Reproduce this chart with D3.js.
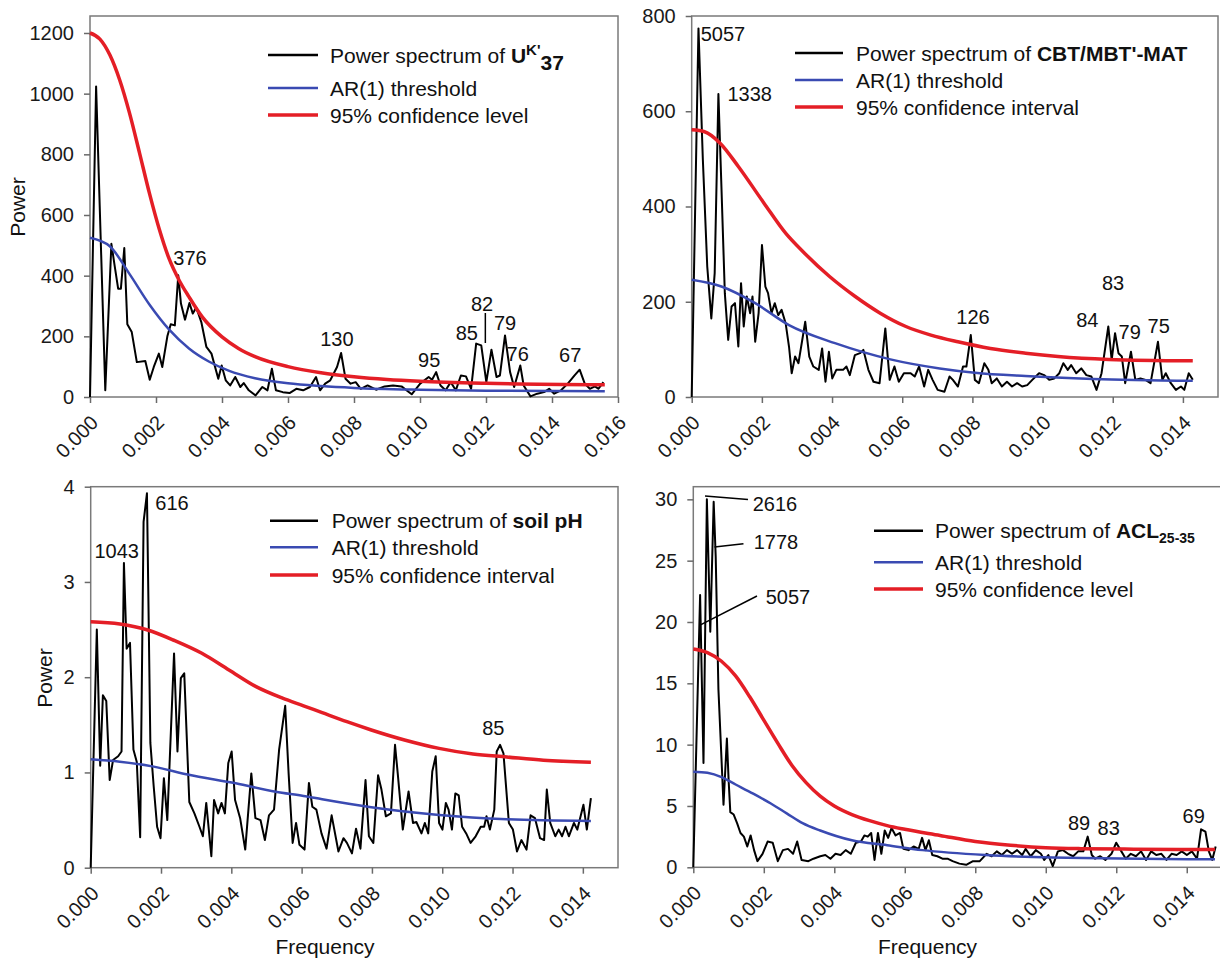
<!DOCTYPE html>
<html>
<head>
<meta charset="utf-8">
<title>Power spectra</title>
<script src="https://d3js.org/d3.v7.min.js"></script>
<style>
    body { margin: 0; background: #fff; }
    svg { display: block; font-family: "Liberation Sans", Arial, sans-serif; }
    .tick text { font-size: 20px; fill: #1a1a1a; font-family: "Liberation Sans", Arial, sans-serif; }
    .tick line { stroke: #6a6a6a; stroke-width: 1.5; }
    .frame { fill: none; stroke: #7a7a7a; stroke-width: 1.5; }
    .spec { fill: none; stroke: #000; stroke-width: 2; stroke-linejoin: round; }
    .ar1 { fill: none; stroke: #3a4ab2; stroke-width: 2.5; }
    .conf { fill: none; stroke: #e41e26; stroke-width: 3.5; }
    .lab { font-size: 20px; fill: #111; }
    .leg { font-size: 21px; fill: #111; }
    .title { font-size: 21px; fill: #111; }
    .lead { stroke: #000; stroke-width: 1.5; }
</style>
</head>
<body>
<script>
// ---- data (frequency, power) ----
var xTicks16 = [0, 0.002, 0.004, 0.006, 0.008, 0.010, 0.012, 0.014, 0.016];
var xTicks14 = [0, 0.002, 0.004, 0.006, 0.008, 0.010, 0.012, 0.014];

// UK'37
var ukTicks = [0, 200, 400, 600, 800, 1000, 1200];
var ukSpec = [[0,0],[0.000185,1024],[0.000463,22],[0.000648,505],[0.000751,430],[0.000853,357],[0.000936,357],
    [0.001039,491],[0.001131,240],[0.001265,214],[0.001419,115],[0.001676,119],[0.00181,57],[0.001933,99],
    [0.002087,143],[0.00219,99],[0.002344,200],[0.002447,240],[0.002571,236],[0.002674,401],[0.002756,308],
    [0.002879,255],[0.003013,310],[0.003116,275],[0.003219,295],[0.003373,247],[0.003527,165],[0.003681,143],
    [0.003887,60],[0.00399,104],[0.004113,55],[0.004247,38],[0.004401,66],[0.004555,33],[0.004658,46],
    [0.004812,22],[0.005018,5],[0.005224,33],[0.005378,22],[0.005512,93],[0.005635,22],[0.005841,16],
    [0.006046,13],[0.006252,27],[0.006458,22],[0.006663,33],[0.006849,66],[0.006972,22],[0.007126,44],
    [0.00728,55],[0.007486,99],[0.007609,145],[0.007743,60],[0.007897,44],[0.008051,49],[0.008206,27],
    [0.008411,38],[0.008668,24],[0.008926,35],[0.009183,38],[0.00944,35],[0.009748,9],[0.010005,44],
    [0.010262,66],[0.010365,57],[0.010489,82],[0.010622,38],[0.010776,22],[0.010931,49],[0.011085,22],
    [0.011239,71],[0.011393,68],[0.011548,27],[0.011702,176],[0.011856,170],[0.01201,49],[0.012165,156],
    [0.012319,66],[0.012422,71],[0.012576,203],[0.01273,82],[0.012853,33],[0.013039,104],[0.013141,38],
    [0.013347,2],[0.013553,11],[0.013759,16],[0.013913,27],[0.014067,11],[0.014273,22],[0.014478,44],
    [0.014684,71],[0.014838,90],[0.014992,44],[0.015147,27],[0.015301,35],[0.015404,27],[0.015558,49]];
var ukAR1 = [[0,525],[0.0006,497],[0.0012,405],[0.0018,305],[0.0024,222],[0.003,160],[0.0036,117],[0.0042,87],
    [0.005,62],[0.006,45],[0.007,36],[0.008,30],[0.010,24],[0.012,21],[0.0156,19]];
var ukConf = [[0,1200],[0.0003,1180],[0.0006,1128],[0.0009,1045],[0.0012,935],[0.0015,805],[0.0018,672],
    [0.0021,553],[0.0024,455],[0.0027,385],[0.003,330],[0.0034,264],[0.004,198],[0.0045,160],[0.005,133],
    [0.006,100],[0.007,80],[0.008,67],[0.009,58],[0.010,52],[0.012,45],[0.0156,40]];
var ukPeaks = [["376",0.00303,457],["130",0.00748,190],["95",0.01028,122],["85",0.01142,210],["82",0.01188,307],
    ["79",0.01258,243],["76",0.01296,142],["67",0.01455,138]];
var ukLeads = [[[0.01198,277],[0.01198,178]]];

// CBT/MBT'-MAT
var matTicks = [0, 200, 400, 600, 800];
var matSpec = [[0,0],[0.000193,774],[0.000318,498],[0.000443,274],[0.000559,165],[0.000655,260],[0.000761,636],
    [0.000847,442],[0.000944,218],[0.00104,120],[0.001136,190],[0.001233,197],[0.001329,106],[0.001406,239],
    [0.001483,148],[0.00157,211],[0.001666,176],[0.001733,211],[0.00181,116],[0.001907,176],[0.002003,319],
    [0.002099,232],[0.002176,218],[0.002273,176],[0.002369,197],[0.002465,172],[0.002562,183],[0.002677,155],
    [0.002773,106],[0.00285,50],[0.002947,85],[0.003043,71],[0.003236,158],[0.003351,85],[0.003467,64],
    [0.003621,57],[0.003717,102],[0.003813,32],[0.00391,95],[0.004006,39],[0.004122,57],[0.004314,57],
    [0.004411,64],[0.004507,46],[0.004651,88],[0.004796,92],[0.004892,99],[0.005036,57],[0.005181,32],
    [0.005354,29],[0.005518,144],[0.005643,36],[0.005778,64],[0.005903,32],[0.006048,50],[0.00624,50],
    [0.006356,43],[0.006481,64],[0.006625,22],[0.006741,57],[0.006866,36],[0.00701,15],[0.007203,11],
    [0.007348,43],[0.007444,36],[0.007588,22],[0.007733,64],[0.007829,64],[0.007954,130],[0.00807,36],
    [0.008186,29],[0.00834,71],[0.008455,57],[0.008551,29],[0.008696,39],[0.00884,22],[0.008985,32],
    [0.009129,22],[0.009274,29],[0.009418,22],[0.009563,25],[0.009707,36],[0.0099,50],[0.010044,46],
    [0.010189,36],[0.010333,39],[0.010477,50],[0.010593,71],[0.010718,57],[0.010814,67],[0.010959,50],
    [0.011103,60],[0.011248,46],[0.011392,43],[0.011537,15],[0.011681,50],[0.011874,148],[0.01197,78],
    [0.012066,134],[0.012163,92],[0.012259,85],[0.012355,29],[0.012519,95],[0.012644,36],[0.012789,39],
    [0.012933,36],[0.013078,29],[0.013289,116],[0.013414,36],[0.013511,50],[0.013655,29],[0.0138,15],
    [0.013944,22],[0.01404,15],[0.014166,50],[0.014281,36]];
var matAR1 = [[0,246],[0.000847,232],[0.00181,197],[0.002773,151],[0.004083,113],[0.005662,79],[0.007068,60],
    [0.00807,51],[0.009514,44],[0.01144,38],[0.014281,34]];
var matConf = [[0,561],[0.000366,557],[0.000809,533],[0.001329,484],[0.002061,407],[0.002677,344],[0.003216,302],
    [0.003929,253],[0.004661,211],[0.005373,176],[0.006105,148],[0.006818,130],[0.007588,116],[0.008513,102],
    [0.009514,92],[0.010439,85],[0.011883,79],[0.014281,76]];
var matPeaks = [["5057",0.000892,762],["1338",0.001653,636],["126",0.008018,169],["84",0.011275,162],
    ["83",0.012008,239],["79",0.012484,137],["75",0.01331,149]];

// soil pH
var phTicks = [0, 1, 2, 3, 4];
var phSpec = [[0,0],[0.000174,2.50],[0.00027,1.07],[0.000347,1.81],[0.000443,1.75],[0.00054,0.92],[0.000636,1.13],
    [0.000781,1.17],[0.000877,1.22],[0.000945,3.20],[0.001022,2.30],[0.001118,2.36],[0.001215,1.24],[0.001311,1.11],
    [0.001407,0.32],[0.001504,3.63],[0.0016,3.93],[0.001697,1.31],[0.001793,0.85],[0.001889,0.43],[0.001986,0.31],
    [0.002082,0.94],[0.002179,0.50],[0.002371,2.25],[0.002468,1.22],[0.002564,1.99],[0.002661,2.04],[0.002805,0.69],
    [0.00295,0.57],[0.003094,0.43],[0.003191,0.33],[0.003287,0.68],[0.003432,0.12],[0.003509,0.71],[0.003625,0.57],
    [0.003721,0.68],[0.003817,0.57],[0.003914,1.10],[0.00401,1.22],[0.004107,0.71],[0.004251,0.52],[0.004396,0.19],
    [0.004569,0.99],[0.004685,0.52],[0.00483,0.50],[0.004955,0.29],[0.005071,0.55],[0.005215,0.61],[0.00536,1.24],
    [0.005533,1.70],[0.00563,0.99],[0.005745,0.26],[0.005842,0.47],[0.005938,0.24],[0.006083,0.19],[0.006208,0.89],
    [0.006305,0.64],[0.00642,0.61],[0.006565,0.36],[0.006709,0.20],[0.006854,0.55],[0.007047,0.17],[0.007191,0.31],
    [0.007288,0.26],[0.007432,0.15],[0.007548,0.41],[0.007673,0.20],[0.007818,0.92],[0.007914,0.33],[0.00804,0.26],
    [0.008175,0.97],[0.008271,0.82],[0.008396,0.54],[0.008541,0.57],[0.008657,1.29],[0.008734,0.99],[0.008878,0.40],
    [0.009042,0.80],[0.009168,0.47],[0.009264,0.48],[0.009409,0.36],[0.009505,0.47],[0.009601,0.36],[0.009717,1.01],
    [0.009814,1.17],[0.00991,0.47],[0.010006,0.40],[0.010103,0.68],[0.01018,0.61],[0.010276,0.40],[0.010373,0.78],
    [0.010469,0.76],[0.010565,0.43],[0.010681,0.36],[0.010806,0.26],[0.010951,0.33],[0.011096,0.43],[0.011192,0.43],
    [0.011259,0.54],[0.011356,0.40],[0.011481,0.61],[0.011549,1.22],[0.011645,1.29],[0.011742,1.20],[0.011896,0.47],
    [0.012011,0.40],[0.012127,0.17],[0.012252,0.29],[0.012397,0.19],[0.012513,0.55],[0.012638,0.52],[0.012783,0.31],
    [0.012898,0.29],[0.012975,0.82],[0.013072,0.47],[0.013216,0.33],[0.013313,0.40],[0.013409,0.33],[0.013506,0.43],
    [0.013602,0.33],[0.013747,0.47],[0.013843,0.40],[0.014017,0.66],[0.014113,0.40],[0.014229,0.73]];
var phAR1 = [[0,1.138],[0.000829,1.113],[0.001793,1.061],[0.002757,0.978],[0.004126,0.886],[0.005263,0.798],
    [0.006054,0.753],[0.006584,0.718],[0.007982,0.634],[0.00991,0.553],[0.011838,0.508],[0.014229,0.49]];
var phConf = [[0,2.583],[0.000829,2.559],[0.00162,2.496],[0.002391,2.384],[0.003162,2.251],[0.003933,2.076],
    [0.004704,1.901],[0.005456,1.78],[0.006054,1.70],[0.006584,1.628],[0.007288,1.533],[0.007982,1.446],
    [0.008927,1.341],[0.00991,1.253],[0.010874,1.194],[0.011838,1.162],[0.012879,1.128],[0.014229,1.106]];
var phPeaks = [["616",0.002313,3.826],["1043",0.00074,3.328],["85",0.011453,1.464]];

// ACL25-35
var aclTicks = [0, 5, 10, 15, 20, 25, 30];
var aclSpec = [[0,0],[0.000193,22.2],[0.000289,8.5],[0.000385,30.0],[0.000482,19.2],[0.000578,29.8],[0.000636,25.3],
    [0.000713,14.5],[0.000857,5.1],[0.000953,10.5],[0.001002,7.1],[0.00105,4.5],[0.001146,4.3],[0.001242,3.6],
    [0.001339,2.8],[0.001435,2.5],[0.001531,1.7],[0.001627,2.6],[0.001724,1.4],[0.00182,0.5],[0.001965,1.1],
    [0.002109,2.1],[0.002253,2.0],[0.002398,0.5],[0.002542,1.4],[0.002687,1.5],[0.002831,1.1],[0.002947,2.1],
    [0.003072,0.6],[0.003265,0.5],[0.003409,0.7],[0.003602,0.9],[0.003746,1.0],[0.003891,0.7],[0.004035,1.1],
    [0.004179,1.0],[0.004324,1.4],[0.004468,1.1],[0.004613,2.0],[0.004757,2.1],[0.004854,2.6],[0.00495,2.5],
    [0.005046,2.8],[0.005142,0.6],[0.005239,2.8],[0.005335,1.1],[0.005431,3.0],[0.005528,2.4],[0.005624,3.2],
    [0.005739,2.6],[0.005865,2.8],[0.005961,1.5],[0.006105,1.4],[0.00625,1.7],[0.006394,1.5],[0.006491,2.4],
    [0.006587,1.4],[0.006683,2.2],[0.00678,1.0],[0.006924,0.9],[0.007068,0.7],[0.007213,0.7],[0.007357,0.5],
    [0.00755,0.3],[0.007743,0.2],[0.007935,0.5],[0.008128,0.5],[0.00832,1.1],[0.008465,0.9],[0.008609,1.3],
    [0.008754,1.0],[0.008898,1.4],[0.009043,1.1],[0.009187,1.4],[0.009331,1.0],[0.009428,1.5],[0.009572,0.9],
    [0.009717,1.4],[0.009861,1.1],[0.009957,0.6],[0.010073,1.0],[0.010198,0.1],[0.010343,1.3],[0.010487,1.4],
    [0.010632,1.1],[0.010776,0.9],[0.01092,1.3],[0.011065,1.3],[0.01119,2.5],[0.011306,1.0],[0.011402,0.7],
    [0.011546,0.9],[0.011691,0.6],[0.011864,1.1],[0.011999,2.0],[0.012124,1.4],[0.012269,0.7],[0.012413,1.1],
    [0.012558,0.9],[0.012702,1.3],[0.012846,0.6],[0.012991,1.3],[0.013135,1.0],[0.01328,1.1],[0.013424,0.6],
    [0.013569,1.1],[0.013713,1.0],[0.013858,1.3],[0.014002,1.0],[0.014146,1.3],[0.014291,0.7],[0.014406,3.1],
    [0.01453,2.9],[0.014627,1.3],[0.014723,0.6],[0.01482,1.7]];
var aclAR1 = [[0,7.8],[0.0004,7.7],[0.0008,7.35],[0.0012,6.75],[0.0017,6.0],[0.0022,5.2],[0.00265,4.4],[0.0031,3.6],
    [0.0036,3.0],[0.0045,2.2],[0.0055,1.8],[0.0065,1.4],[0.0083,1.0],[0.0102,0.8],[0.0148,0.65]];
var aclConf = [[0,17.8],[0.0004,17.5],[0.0008,16.8],[0.0012,15.6],[0.0016,13.9],[0.002,12.0],[0.0024,10.1],
    [0.0028,8.3],[0.0032,6.9],[0.0036,5.8],[0.004,5.0],[0.0045,4.3],[0.005,3.8],[0.0055,3.4],[0.006,3.1],
    [0.007,2.6],[0.008,2.1],[0.009,1.8],[0.010,1.6],[0.011,1.52],[0.0125,1.48],[0.0148,1.45]];
var aclPeaks = [["2616",0.002318,29.64],["1778",0.002346,26.54],["5057",0.002687,22.01],
    ["89",0.010943,3.59],["83",0.011785,3.18],["69",0.014197,4.18]];
var aclLeads = [[[0.000332,30.27],[0.001552,29.99]],[[0.000601,26.11],[0.001424,26.38]],[[0.00019,19.75],[0.001807,22.12]]];

// ---- layout ----
var svg = d3.select("body").append("svg").attr("width", 1220).attr("height", 962);

var panels = [
    {left: 90, right: 618, top: 16, bottom: 397, xMax: 0.016, yMax: 1256, xTicks: xTicks16, yTicks: ukTicks,
     spec: ukSpec, ar1: ukAR1, conf: ukConf, peaks: ukPeaks, leads: ukLeads,
     leg: {x0: 268, x1: 318, tx: 330, rows: [55, 88, 115]}, name: "uk", confText: "95% confidence level",
     yTitle: [18, 207]},
    {left: 691.7, right: 1218, top: 16, bottom: 397, xMax: 0.015, yMax: 800, xTicks: xTicks14, yTicks: matTicks,
     spec: matSpec, ar1: matAR1, conf: matConf, peaks: matPeaks, leads: [],
     leg: {x0: 795, x1: 843, tx: 856, rows: [53, 80, 107]}, name: "mat", confText: "95% confidence interval"},
    {left: 90.7, right: 618, top: 486.7, bottom: 867.7, xMax: 0.015, yMax: 4, xTicks: xTicks14, yTicks: phTicks,
     spec: phSpec, ar1: phAR1, conf: phConf, peaks: phPeaks, leads: [],
     leg: {x0: 270, x1: 318, tx: 331.7, rows: [520.7, 547.3, 575]}, name: "ph", confText: "95% confidence interval",
     yTitle: [45, 678], xTitle: [325, 947]},
    {left: 693.3, right: 1222, top: 486.7, bottom: 867.3, xMax: 0.015, yMax: 31.03, xTicks: xTicks14, yTicks: aclTicks,
     spec: aclSpec, ar1: aclAR1, conf: aclConf, peaks: aclPeaks, leads: aclLeads,
     leg: {x0: 874, x1: 923, tx: 935, rows: [530.7, 562.3, 589]}, name: "acl", confText: "95% confidence level",
     xTitle: [927.5, 947]}
];

function legendTitle(t, name) {
    t.append("tspan").text("Power spectrum of ");
    if (name == "uk") {
        t.append("tspan").attr("font-weight", "bold").text("U");
        t.append("tspan").attr("font-weight", "bold").attr("font-size", 15).attr("dy", -8).text("K'");
        t.append("tspan").attr("font-weight", "bold").attr("dy", 15).text("37");
    } else if (name == "mat") {
        t.append("tspan").attr("font-weight", "bold").text("CBT/MBT'-MAT");
    } else if (name == "ph") {
        t.append("tspan").attr("font-weight", "bold").text("soil pH");
    } else {
        t.append("tspan").attr("font-weight", "bold").text("ACL");
        t.append("tspan").attr("font-weight", "bold").attr("font-size", 14).attr("dy", 5).text("25-35");
    }
}

function drawPanel(cfg) {
    var g = svg.append("g");
    var x = d3.scaleLinear().domain([0, cfg.xMax]).range([cfg.left, cfg.right]);
    var y = d3.scaleLinear().domain([0, cfg.yMax]).range([cfg.bottom, cfg.top]);

    g.append("rect").attr("class", "frame")
        .attr("x", cfg.left).attr("y", cfg.top)
        .attr("width", cfg.right - cfg.left).attr("height", cfg.bottom - cfg.top);

    var ya = g.append("g").attr("transform", "translate(" + cfg.left + ",0)")
        .call(d3.axisLeft(y).tickValues(cfg.yTicks).tickFormat(d3.format("d"))
            .tickSize(6).tickPadding(10).tickSizeOuter(0));
    ya.select(".domain").remove();

    var xa = g.append("g").attr("transform", "translate(0," + cfg.bottom + ")")
        .call(d3.axisBottom(x).tickValues(cfg.xTicks).tickFormat(d3.format(".3f")).tickSize(6).tickSizeOuter(0));
    xa.select(".domain").remove();
    xa.selectAll(".tick text")
        .attr("x", 0).attr("y", 0).attr("dy", "0.35em")
        .attr("text-anchor", "end")
        .attr("transform", "translate(4,22) rotate(-45)");

    var line = d3.line().x(function(d) { return x(d[0]); }).y(function(d) { return y(d[1]); });
    var smooth = d3.line().x(function(d) { return x(d[0]); }).y(function(d) { return y(d[1]); })
        .curve(d3.curveMonotoneX);

    g.append("path").datum(cfg.spec).attr("class", "spec").attr("d", line);
    g.append("path").datum(cfg.ar1).attr("class", "ar1").attr("d", smooth);
    g.append("path").datum(cfg.conf).attr("class", "conf").attr("d", smooth);

    cfg.peaks.forEach(function(p) {
        g.append("text").attr("class", "lab")
            .attr("x", x(p[1])).attr("y", y(p[2]) + 7)
            .attr("text-anchor", "middle").text(p[0]);
    });
    cfg.leads.forEach(function(l) {
        g.append("line").attr("class", "lead")
            .attr("x1", x(l[0][0])).attr("y1", y(l[0][1]))
            .attr("x2", x(l[1][0])).attr("y2", y(l[1][1]));
    });

    // legend
    var lg = cfg.leg;
    var cls = ["spec", "ar1", "conf"];
    var labels = [null, "AR(1) threshold", cfg.confText];
    lg.rows.forEach(function(ry, i) {
        g.append("line").attr("class", cls[i]).style("stroke-linecap", "butt")
            .attr("x1", lg.x0).attr("x2", lg.x1).attr("y1", ry).attr("y2", ry)
            .style("stroke-width", i == 2 ? 3.5 : 2.5);
        var t = g.append("text").attr("class", "leg").attr("x", lg.tx).attr("y", ry + 7.5);
        if (i == 0) legendTitle(t, cfg.name);
        else t.text(labels[i]);
    });

    if (cfg.yTitle) {
        g.append("text").attr("class", "title")
            .attr("transform", "translate(" + cfg.yTitle[0] + "," + cfg.yTitle[1] + ") rotate(-90)")
            .attr("text-anchor", "middle").attr("dy", "0.35em").text("Power");
    }
    if (cfg.xTitle) {
        g.append("text").attr("class", "title")
            .attr("x", cfg.xTitle[0]).attr("y", cfg.xTitle[1])
            .attr("text-anchor", "middle").attr("dy", "0.35em").text("Frequency");
    }
}

panels.forEach(drawPanel);
</script>
</body>
</html>
